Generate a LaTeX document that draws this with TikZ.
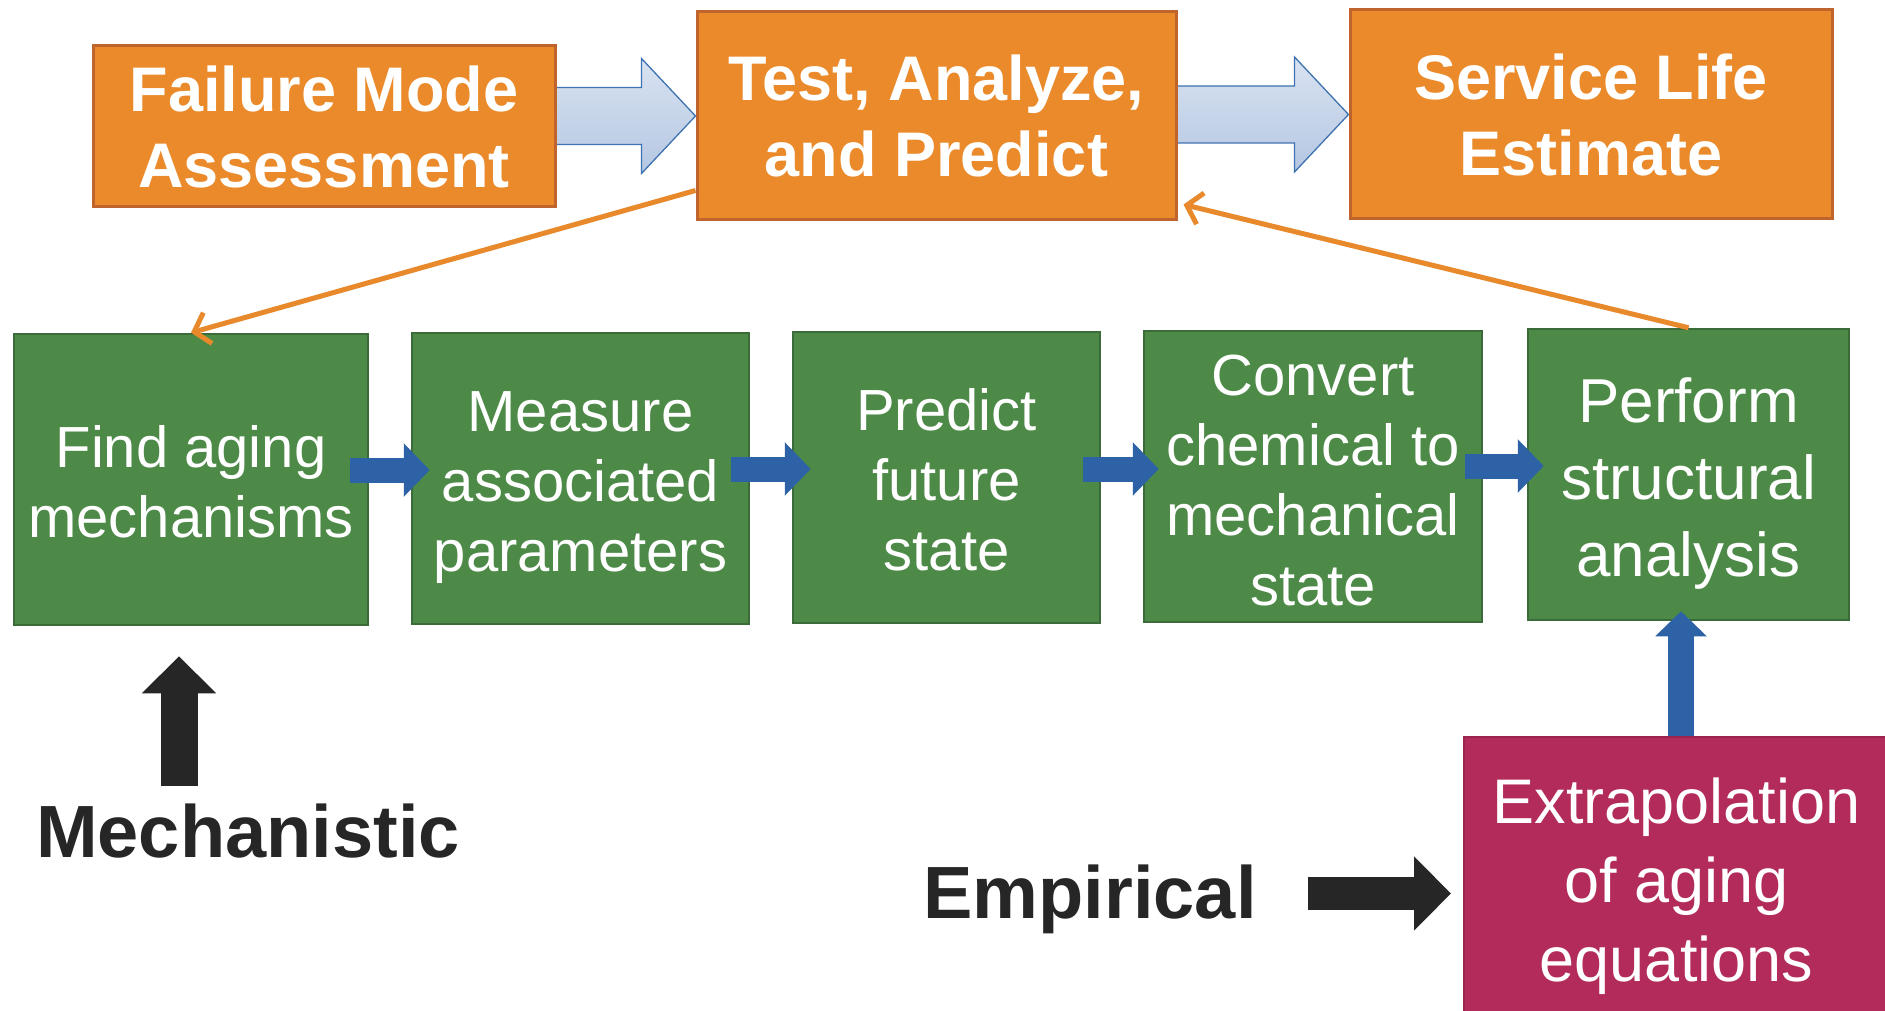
\documentclass[tikz,border=0pt]{standalone}
\usepackage{fontspec}
\setmainfont{Liberation Sans}
\usetikzlibrary{arrows.meta,calc,backgrounds}
\definecolor{ofill}{HTML}{EA8A2B}
\definecolor{oborder}{HTML}{BE642C}
\definecolor{gfill}{HTML}{4D8A48}
\definecolor{gborder}{HTML}{3B6B39}
\definecolor{rfill}{HTML}{B22B5A}
\definecolor{rborder}{HTML}{9A2350}
\definecolor{barrow}{HTML}{2E62A6}
\definecolor{darkarrow}{HTML}{262626}
\definecolor{hollowline}{HTML}{3F72B0}
\definecolor{hollowtop}{HTML}{D9E3F1}
\definecolor{hollowbot}{HTML}{B4C7E2}
\definecolor{olink}{HTML}{E8892B}
\pgfdeclarelayer{behind}
\pgfsetlayers{background,behind,main}
\newcommand{\lowtext}[2]{\raisebox{-#1}[\height][\depth]{\begin{tabular}{@{}c@{}}#2\end{tabular}}}
\tikzset{
  obox/.style={draw=oborder, line width=3pt, fill=ofill, text=white, align=center, inner sep=0pt,
    font=\bfseries\fontsize{63}{76}\selectfont},
  gbox/.style={draw=gborder, line width=2.5pt, fill=gfill, text=white, align=center, inner sep=0pt,
    font=\fontsize{58}{70}\selectfont},
  rbox/.style={draw=rborder, line width=2pt, fill=rfill, text=white, align=center, inner sep=0pt,
    font=\fontsize{63}{79}\selectfont},
  hollowarrow/.style={draw=hollowline, line width=1.3pt, top color=hollowtop, bottom color=hollowbot, line join=miter},
  bluearrow/.style={draw=barrow, line width=25pt, -{Triangle[length=26pt,width=52pt]}},
  vbluearrow/.style={draw=barrow, line width=26pt, -{Triangle[length=25pt,width=50pt]}},
  blackarrow/.style={draw=darkarrow, line width=#1, -{Triangle[length=37pt,width=72pt]}},
  blackarrow/.default=37pt,
  olinkarrow/.style={draw=olink, line width=5pt, -{Straight Barb[length=14pt,width=32pt,line width=5pt]}},
  bigword/.style={text=darkarrow, font=\bfseries\fontsize{74}{80}\selectfont, inner sep=0pt, anchor=base}
}
\begin{document}
\begin{tikzpicture}[x=1pt,y=1pt]
\begin{pgfonlayer}{background}
\fill[white] (0,0) rectangle (1885,-1011);
\end{pgfonlayer}
\useasboundingbox (0,0) rectangle (1885,-1011);

% top row
\node[obox, minimum width=462pt, minimum height=161pt] (fm) at (324,-126.5) {Failure Mode\\Assessment};
\node[obox, minimum width=479pt, minimum height=208pt] (tap) at (936.5,-116) {Test, Analyze,\\and Predict};
\node[obox, minimum width=482pt, minimum height=209pt] (sle) at (1591,-114.5) {Service Life\\Estimate};

% green row
\node[gbox, minimum width=354pt, minimum height=291pt] (g1) at (191,-479.5) {\lowtext{9pt}{Find aging\\mechanisms}};
\node[gbox, minimum width=337pt, minimum height=291pt] (g2) at (580.5,-478.5) {\lowtext{9pt}{Measure\\associated\\parameters}};
\node[gbox, minimum width=307pt, minimum height=291pt] (g3) at (946.5,-477.5) {\lowtext{9pt}{Predict\\future\\state}};
\node[gbox, minimum width=338pt, minimum height=291pt] (g4) at (1313,-476.5) {\lowtext{10pt}{Convert\\chemical to\\mechanical\\state}};
\node[gbox, minimum width=321pt, minimum height=291pt, font=\fontsize{62}{77}\selectfont] (g5) at (1688.5,-474.5) {\lowtext{10pt}{Perform\\structural\\analysis}};

% red box
\node[rbox, minimum width=425pt, minimum height=278pt] (ex) at (1676.5,-876) {\lowtext{11pt}{Extrapolation\\of aging\\equations}};

% labels
\node[bigword] (mech) at (248,-857) {Mechanistic};
\node[bigword] (emp) at (1090,-918) {Empirical};

% hollow block arrows (behind boxes)
\begin{pgfonlayer}{behind}
\path[hollowarrow] ($(fm.east|-tap.west)+(-3,28.5)$) -- ($(tap.west)+(-54,28.5)$) -- ($(tap.west)+(-54,57.5)$)
  -- (tap.west) -- ($(tap.west)+(-54,-57.5)$) -- ($(tap.west)+(-54,-28.5)$) -- ($(fm.east|-tap.west)+(-3,-28.5)$) -- cycle;
\path[hollowarrow] ($(tap.east|-sle.west)+(-3,28.5)$) -- ($(sle.west)+(-54,28.5)$) -- ($(sle.west)+(-54,57.5)$)
  -- (sle.west) -- ($(sle.west)+(-54,-57.5)$) -- ($(sle.west)+(-54,-28.5)$) -- ($(tap.east|-sle.west)+(-3,-28.5)$) -- cycle;
\end{pgfonlayer}

% orange links
\draw[olinkarrow] ([yshift=31pt]tap.south west) -- (g1.north);
\draw[olinkarrow] (g5.north) -- ([xshift=6pt,yshift=17pt]tap.south east);

% blue arrows between green boxes
\draw[bluearrow] ($(g1.east|-0,-470)+(-19,0)$) -- ($(g2.west|-0,-470)+(19,0)$);
\draw[bluearrow] ($(g2.east|-0,-469)+(-19,0)$) -- ($(g3.west|-0,-469)+(19,0)$);
\draw[bluearrow] ($(g3.east|-0,-469)+(-18,0)$) -- ($(g4.west|-0,-469)+(16,0)$);
\draw[bluearrow] ($(g4.east|-0,-466)+(-18,0)$) -- ($(g5.west|-0,-466)+(17,0)$);

% vertical blue arrow
\draw[vbluearrow] ($(ex.north)+(4.5,0)$) -- ($(g5.south)+(-7.5,10)$);

% black arrows
\coordinate (mtail) at ($(g1.south)+(-12,-160)$);
\draw[blackarrow] (mtail) -- ($(g1.south)+(-12,-30)$);
\coordinate (etail) at ($(emp.base east)+(51,24.5)$);
\draw[blackarrow=33pt] (etail) -- ($(ex.west)+(-12,-17.5)$);
\end{tikzpicture}
\end{document}
